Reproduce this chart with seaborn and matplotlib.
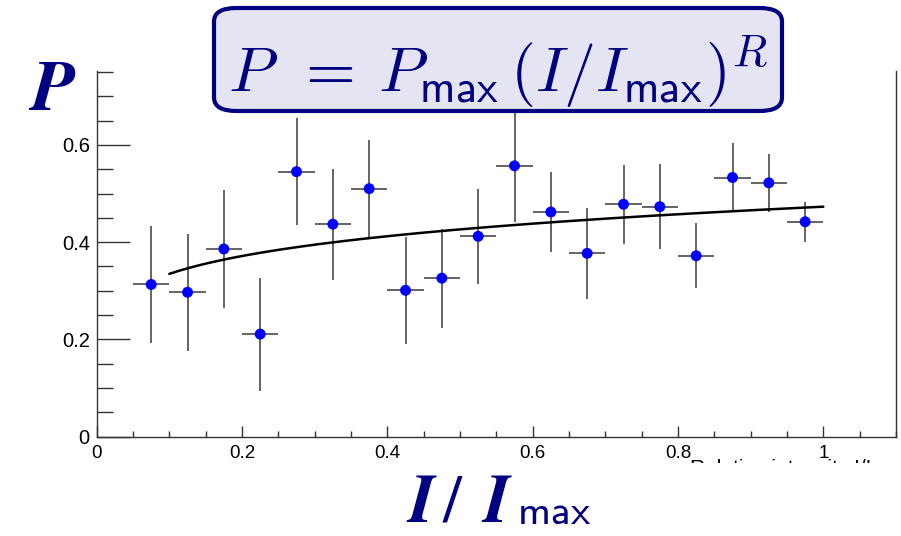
import numpy as np
import pandas as pd
import matplotlib
matplotlib.use("Agg")
import matplotlib.pyplot as plt
from matplotlib.patches import FancyBboxPatch, Rectangle
import seaborn as sns

# Measured polarisation per intensity bin
bin_center = [0.075, 0.125, 0.175, 0.225, 0.275, 0.325, 0.375, 0.425, 0.475, 0.525,
              0.575, 0.625, 0.675, 0.725, 0.775, 0.825, 0.875, 0.925, 0.975]
polarization = [0.313, 0.297, 0.386, 0.211, 0.545, 0.437, 0.510, 0.301, 0.326, 0.412,
                0.557, 0.462, 0.377, 0.478, 0.473, 0.372, 0.533, 0.522, 0.442]
pol_error = [0.121, 0.120, 0.121, 0.116, 0.110, 0.114, 0.100, 0.110, 0.102, 0.098,
             0.115, 0.082, 0.094, 0.081, 0.088, 0.067, 0.070, 0.060, 0.041]
bin_half_width = 0.025

# Power-law fit P = Pmax (I/Imax)^R over 0.1 .. 1
fit_pmax = 0.473
fit_r = 0.15
fit_range = (0.1, 1.0)

x_ticks = [0, 0.2, 0.4, 0.6, 0.8, 1]
x_tick_labels = ["0", "0.2", "0.4", "0.6", "0.8", "1"]
y_ticks = [0, 0.2, 0.4, 0.6]
y_tick_labels = ["0", "0.2", "0.4", "0.6"]

NAVY = "#000080"
W, H = 901, 536
DPI = 100


def fx(px):
    return px / W


def fy(py):
    return 1 - py / H


sns.set_theme(style="white")
plt.rcParams["font.family"] = ["Liberation Sans", "DejaVu Sans"]

fig = plt.figure(figsize=(W / DPI, H / DPI), dpi=DPI)
ax = fig.add_axes([fx(96.7), fy(436.7), fx(896) - fx(96.7), fy(71) - fy(436.7)])

df = pd.DataFrame({"x": bin_center, "p": polarization, "err": pol_error})

# error bars (both directions)
ax.errorbar(df["x"], df["p"], yerr=df["err"], xerr=bin_half_width, fmt="none",
            ecolor="#3a3a3a", elinewidth=1.1, capsize=0, zorder=2)

# fitted curve
fit_x = np.linspace(fit_range[0], fit_range[1], 200)
fit_df = pd.DataFrame({"x": fit_x, "p": fit_pmax * fit_x ** fit_r})
sns.lineplot(data=fit_df, x="x", y="p", ax=ax, color="black", linewidth=1.8,
             zorder=3, legend=False)

# data points
sns.scatterplot(data=df, x="x", y="p", ax=ax, color="#0000ff", s=62,
                edgecolor="none", zorder=4, legend=False)

ax.set_xlim(0, 1.1)
ax.set_ylim(0, 0.752)
ax.set_xlabel("")
ax.set_ylabel("")

ax.set_xticks(x_ticks)
ax.set_xticklabels(x_tick_labels)
ax.set_yticks(y_ticks)
ax.set_yticklabels(y_tick_labels)
ax.set_xticks(np.arange(0, 1.1001, 0.05), minor=True)
ax.set_yticks(np.arange(0, 0.7501, 0.05), minor=True)

ax.tick_params(axis="both", which="both", direction="in", colors="#333333",
               labelcolor="black", width=1.0)
ax.tick_params(axis="y", which="major", length=23.5, pad=5, labelsize=14.5)
ax.tick_params(axis="y", which="minor", length=11.5)
ax.tick_params(axis="x", which="major", length=8, pad=6, labelsize=13.5)
ax.tick_params(axis="x", which="minor", length=4)
ax.tick_params(left=True, bottom=True, which="both")

for side in ("left", "bottom", "right"):
    ax.spines[side].set_visible(True)
    ax.spines[side].set_color("#333333")
    ax.spines[side].set_linewidth(1.0)
ax.spines["top"].set_visible(False)

# axis title partly hidden below the big label
fig.text(fx(871), fy(459), "Relative intensity I/I", ha="right", va="top",
         fontsize=15, color="black")
fig.patches.append(Rectangle((fx(600), 0), 1 - fx(600), fy(463.0),
                             transform=fig.transFigure, facecolor="white",
                             edgecolor="none", zorder=5))

# big axis labels
fig.text(fx(52), fy(92), r"$\boldsymbol{P}$", ha="center", va="center",
         fontsize=52, color=NAVY, math_fontfamily="stix", zorder=6)
fig.text(fx(406), fy(522), r"$\boldsymbol{I}\,/\;\,\boldsymbol{I}$",
         ha="left", va="baseline", fontsize=49, color=NAVY,
         math_fontfamily="stix", zorder=6)
fig.text(fx(517), fy(524), r"$\mathsf{max}$",
         ha="left", va="baseline", fontsize=30, color=NAVY,
         math_fontfamily="cm", zorder=6)

# formula box
box = FancyBboxPatch((fx(214), fy(111)), fx(782) - fx(214), fy(8) - fy(111),
                     boxstyle="round,pad=0,rounding_size=0.025",
                     transform=fig.transFigure, facecolor="#e4e4f2",
                     edgecolor=NAVY, linewidth=3, zorder=5)
fig.patches.append(box)
fig.text(fx(498), fy(72), r"$P\;\,=\:P_{\mathsf{max}}\,(I/I_{\mathsf{max}})^{R}$",
         ha="center", va="center", fontsize=46, color=NAVY,
         math_fontfamily="cm", zorder=6)

fig.savefig("out.png", dpi=DPI)
